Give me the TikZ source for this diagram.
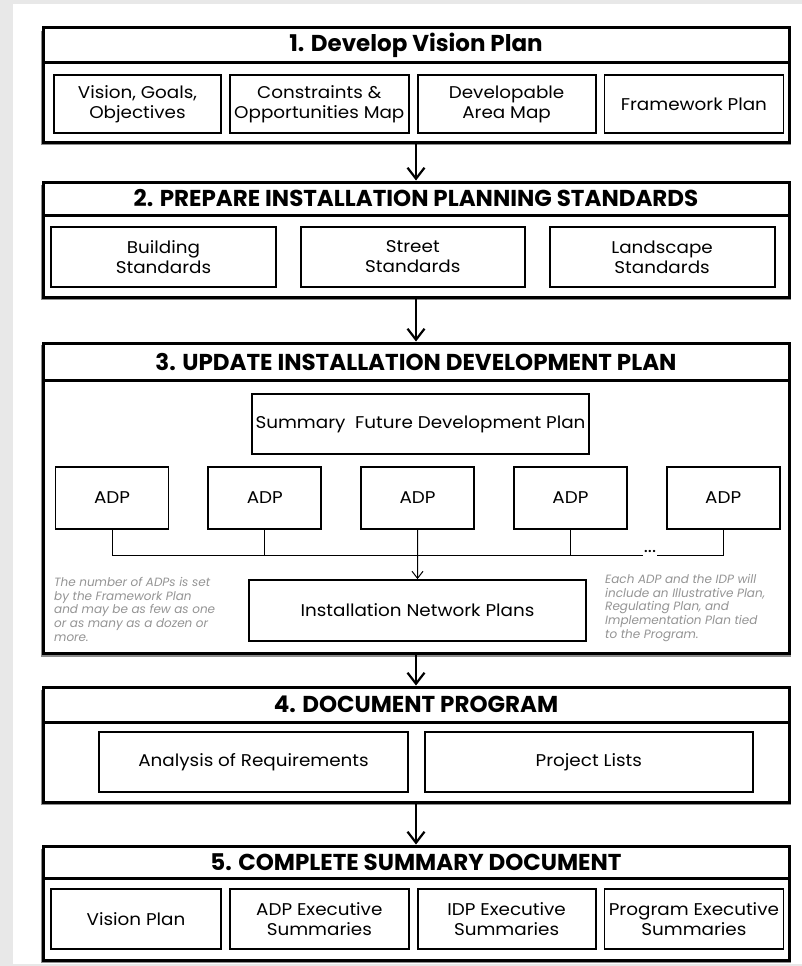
\documentclass[tikz,border=0pt]{standalone}
\usepackage{fontspec}
\setmainfont{Poppins}[FakeStretch=1.08]
\newfontfamily\headfont{Poppins}
\newfontfamily\notefont{Poppins}
\usepackage{tikz}
\usetikzlibrary{arrows.meta,positioning,calc,shadows}
\tikzset{
  frame/.style={draw, line width=3pt, fill=white, minimum width=746pt, inner sep=0pt,
                drop shadow={shadow xshift=0pt, shadow yshift=-3pt, shadow scale=1.006, fill=black!45, opacity=1}},
  head/.style={draw, line width=3pt, minimum width=746pt, minimum height=35pt, inner sep=0pt,
               font=\headfont\bfseries\fontsize{23}{23}\selectfont},
  item/.style={draw, line width=1.8pt, fill=white, minimum height=60pt, inner sep=1pt, align=center,
               font=\fontsize{17}{20}\selectfont},
  adp/.style={item, minimum width=113pt, minimum height=62pt},
  note/.style={align=left, text=black!42, inner sep=0pt, font=\notefont\itshape\fontsize{12}{13.8}\selectfont},
  flow/.style={-{Straight Barb[length=11pt, width=17pt]}, line width=2.2pt},
  link/.style={line width=1pt}
}
\begin{document}
\begin{tikzpicture}[x=1pt, y=-1pt]
\useasboundingbox (0,0) rectangle (802,966);
\fill[black!9] (0,0) rectangle (802,966);
\fill[white] (13,4) rectangle (802,964);

\node[frame, minimum height=114pt] (f1) at (416,85) {};
\node[head, anchor=north] (h1) at (f1.north) {1. Develop Vision Plan};
\node[item, minimum width=167pt, minimum height=58pt] (v1) at (137.5,104) {Vision, Goals,\\Objectives};
\node[item, minimum width=179pt, minimum height=58pt, right=7pt of v1] (v2) {Constraints \&\\Opportunities Map};
\node[item, minimum width=178pt, minimum height=58pt, right=7pt of v2] (v3) {Developable\\Area Map};
\node[item, minimum width=179pt, minimum height=58pt, right=7pt of v3] (v4) {Framework Plan};

\node[frame, minimum height=115pt] (f2) at (416,239.5) {};
\node[head, minimum height=33pt, anchor=north] (h2) at (f2.north) {2. PREPARE INSTALLATION PLANNING STANDARDS};
\node[item, minimum width=225pt] (s1) at (163.5,257) {Building\\Standards};
\node[item, minimum width=224pt, right=23pt of s1] (s2) {Street\\Standards};
\node[item, minimum width=225pt, right=23pt of s2] (s3) {Landscape\\Standards};

\node[frame, minimum height=310pt] (f3) at (416,498) {};
\node[head, minimum height=37pt, anchor=north] (h3) at (f3.north) {3. UPDATE INSTALLATION DEVELOPMENT PLAN};
\node[item, minimum width=337pt] (sum) at (420.5,424) {Summary\ \ Future Development Plan};
\node[adp] (a1) at (112,498) {ADP};
\node[adp, right=38pt of a1] (a2) {ADP};
\node[adp, right=38pt of a2] (a3) {ADP};
\node[adp, right=38pt of a3] (a4) {ADP};
\node[adp, right=38pt of a4] (a5) {ADP};
\node[item, minimum width=337pt, minimum height=61pt] (inp) at (417.5,610.5) {Installation Network Plans};
\coordinate (bus) at (416,555);
\node[inner sep=1pt, font=\fontsize{18}{18}\selectfont] (dots) at (650,551) {...};
\node[note, anchor=north west] (n1) at (54,577) {The number of ADPs is set\\by the Framework Plan\\and may be as few as one\\or as many as a dozen or\\more.};
\node[note, anchor=north west] (n2) at (605,574) {Each ADP and the IDP will\\include an Illustrative Plan,\\Regulating Plan, and\\Implementation Plan tied\\to the Program.};
\draw[link] (a1.south) |- (dots.west |- bus);
\draw[link] (dots.east |- bus) -| (a5.south);
\draw[link] (a2.south) -- (a2.south |- bus);
\draw[link] (a4.south) -- (a4.south |- bus);
\draw[link, -{Straight Barb[length=7pt, width=11pt]}] (a3.south) -- (inp.north);

\node[frame, minimum height=115pt] (f4) at (416,744.5) {};
\node[head, anchor=north] (h4) at (f4.north) {4. DOCUMENT PROGRAM};
\node[item, minimum width=309pt] (r1) at (253.5,762) {Analysis of Requirements};
\node[item, minimum width=328pt, right=15pt of r1] (r2) {Project Lists};

\node[frame, minimum height=114pt] (f5) at (416,903) {};
\node[head, minimum height=32pt, anchor=north] (h5) at (f5.north) {5. COMPLETE SUMMARY DOCUMENT};
\node[item, minimum width=170pt] (d1) at (136,919) {Vision Plan};
\node[item, minimum width=179pt, right=7pt of d1] (d2) {ADP Executive\\Summaries};
\node[item, minimum width=178pt, right=7pt of d2] (d3) {IDP Executive\\Summaries};
\node[item, minimum width=179pt, right=7pt of d3] (d4) {Program Executive\\Summaries};

\draw[flow] (f1.south) -- (f2.north);
\draw[flow] (f2.south) -- (f3.north);
\draw[flow] (f3.south) -- (f4.north);
\draw[flow] (f4.south) -- (f5.north);
\end{tikzpicture}
\end{document}
